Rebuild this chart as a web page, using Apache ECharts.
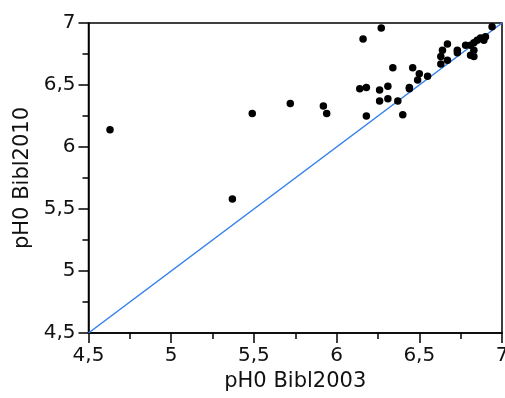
<!DOCTYPE html>
<html>
<head>
<meta charset="utf-8">
<script src="https://cdn.jsdelivr.net/npm/echarts@6/dist/echarts.min.js"></script>
<style>html,body{margin:0;padding:0;background:#fff}#c{width:505px;height:398px}</style>
</head>
<body>
<div id="c"></div>
<script>
var xValues = [4.63,5.37,5.49,5.72,5.92,5.94,6.27,6.16,6.94,6.67,6.64,6.63,6.63,6.67,6.73,6.73,6.78,6.81,6.83,6.83,6.81,6.83,6.85,6.87,6.90,6.89,6.34,6.46,6.50,6.49,6.55,6.44,6.44,6.14,6.18,6.26,6.31,6.26,6.31,6.37,6.18,6.40];
var yValues = [6.14,5.58,6.27,6.35,6.33,6.27,6.96,6.87,6.97,6.83,6.78,6.73,6.67,6.70,6.78,6.76,6.82,6.82,6.84,6.78,6.74,6.73,6.86,6.88,6.89,6.86,6.64,6.64,6.59,6.54,6.57,6.48,6.47,6.47,6.48,6.46,6.49,6.37,6.39,6.37,6.25,6.26];
var refLine = [4.5, 7];
var xTitle = 'pH0 Bibl2003';
var yTitle = 'pH0 Bibl2010';

var pts = xValues.map(function(x,i){return [x, yValues[i]];});
var fmt = function(v){return String(v).replace('.', ',');};
var font = 'DejaVu Sans';
function axis(name, gap){
  return {
    type:'value', min:4.5, max:7, interval:0.5,
    name:name, nameLocation:'middle', nameGap:gap,
    nameTextStyle:{fontFamily:font, fontSize:21, color:'#111'},
    axisLine:{show:true, lineStyle:{color:'#000', width:1.5}},
    axisTick:{show:true, inside:false, length:10, lineStyle:{color:'#000', width:1.5}},
    minorTick:{show:true, splitNumber:2, length:6, lineStyle:{color:'#000', width:1.5}},
    splitLine:{show:false},
    axisLabel:{fontFamily:font, fontSize:20, color:'#111', formatter:fmt, margin:13, showMinLabel:true, showMaxLabel:true}
  };
}
var chart = echarts.init(document.getElementById('c'), null, {renderer:'canvas'});
chart.setOption({
  animation:false,
  grid:{left:88.5, right:3, top:23, bottom:65, show:true, borderColor:'#000', borderWidth:1.5, backgroundColor:'transparent', containLabel:false, outerBoundsMode:'none'},
  xAxis: axis(xTitle, 36),
  yAxis: axis(yTitle, 55),
  series:[
    {type:'line', data:[[refLine[0],refLine[0]],[refLine[1],refLine[1]]], symbol:'none', lineStyle:{color:'#2f7fef', width:1.5}, z:1, silent:true},
    {type:'scatter', data:pts, symbol:'circle', symbolSize:7.5, itemStyle:{color:'#000', opacity:1}, z:3}
  ]
});
</script>
</body>
</html>
